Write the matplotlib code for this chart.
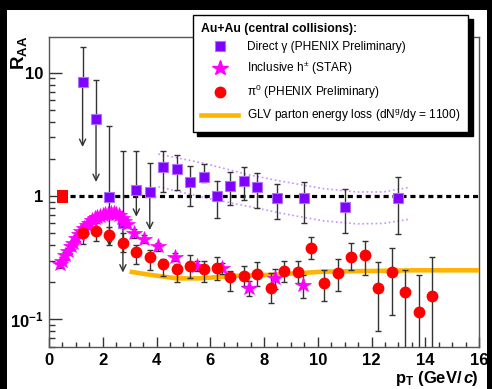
import matplotlib
matplotlib.use("Agg")
from matplotlib import pyplot as plt
from matplotlib.patches import Rectangle
from matplotlib.lines import Line2D
from matplotlib.ticker import FixedLocator, NullFormatter, LogLocator

plt.rcParams['font.family'] = ['Liberation Sans', 'DejaVu Sans']
plt.rcParams['mathtext.fontset'] = 'custom'
plt.rcParams['mathtext.rm'] = 'Liberation Sans'
plt.rcParams['mathtext.it'] = 'Liberation Sans:italic'
plt.rcParams['mathtext.bf'] = 'Liberation Sans:bold'
plt.rcParams['mathtext.default'] = 'regular'

# Direct gamma (PHENIX prelim.) - first six are upper limits
gam_pt = [1.25, 1.75, 2.25, 2.75, 3.25, 3.75, 4.25, 4.75, 5.25, 5.75, 6.25, 6.75, 7.25, 7.75, 8.5, 9.5, 11.0, 13.0]
gam_val = [8.35, 4.2, 0.99, 0.60, 1.12, 1.08, 1.71, 1.65, 1.29, 1.42, 1.0, 1.2, 1.33, 1.19, 0.96, 0.96, 0.82, 0.97]
gam_hi = [16.2, 8.66, 3.69, 2.3, 2.3, 1.87, 2.33, 2.17, 1.75, 1.82, 1.33, 1.56, 1.73, 1.54, 1.25, 1.31, 1.14, 1.43]
gam_lo = [2.5, 1.3, 0.39, 0.24, 0.68, 0.53, 1.07, 1.12, 0.83, 1.3, 0.67, 0.85, 0.93, 0.8, 0.65, 0.6, 0.5, 0.49]
gam_lim = [True, True, True, True, True, True] + [False] * 12

# dotted band around the direct gamma points
band_pt = [4.07, 5.74, 7.48, 8.72, 10.2, 11.45, 12.44, 13.43]
band_hi = [2.19, 1.85, 1.48, 1.31, 1.15, 1.08, 1.08, 1.18]
band_lo = [1.19, 0.975, 0.82, 0.72, 0.63, 0.595, 0.6, 0.65]

# inclusive h+- (STAR)
h_pt = [0.4, 0.5, 0.6, 0.7, 0.8, 0.9, 1.0, 1.1, 1.2, 1.3, 1.4, 1.5, 1.6, 1.7, 1.8, 1.9, 2.0, 2.1, 2.2,
        2.3, 2.4, 2.5, 2.6, 2.7, 2.8, 2.9, 3.15, 3.55, 4.05, 4.7, 5.5, 6.45, 7.45, 8.4, 9.45]
h_val = [0.28, 0.30, 0.33, 0.36, 0.39, 0.42, 0.46, 0.49, 0.52, 0.55, 0.58, 0.61, 0.64, 0.66, 0.68, 0.69, 0.70, 0.71, 0.72,
         0.73, 0.73, 0.72, 0.70, 0.67, 0.63, 0.59, 0.50, 0.45, 0.39, 0.32, 0.27, 0.26, 0.18, 0.215, 0.19]
h_err = [0.02] * 26 + [0.04, 0.035, 0.03, 0.025, 0.025, 0.025, 0.025, 0.04, 0.04]

# pi0 (PHENIX prelim.)
pi_pt = [1.25, 1.75, 2.25, 2.75, 3.25, 3.75, 4.25, 4.75, 5.25, 5.75, 6.25, 6.75, 7.25, 7.75, 8.25, 8.75,
         9.25, 9.75, 10.25, 10.75, 11.25, 11.75, 12.25, 12.75, 13.25, 13.75, 14.25]
pi_val = [0.50, 0.52, 0.48, 0.42, 0.35, 0.32, 0.28, 0.255, 0.27, 0.255, 0.263, 0.22, 0.225, 0.233, 0.18, 0.247,
          0.244, 0.38, 0.196, 0.239, 0.32, 0.33, 0.18, 0.243, 0.168, 0.114, 0.155]
pi_hi = [0.58, 0.60, 0.56, 0.50, 0.40, 0.365, 0.31, 0.28, 0.33, 0.30, 0.32, 0.245, 0.27, 0.29, 0.236, 0.30,
         0.295, 0.47, 0.25, 0.31, 0.42, 0.43, 0.29, 0.38, 0.25, 0.23, 0.32]
pi_lo = [0.41, 0.43, 0.40, 0.355, 0.28, 0.25, 0.225, 0.20, 0.215, 0.20, 0.21, 0.17, 0.185, 0.185, 0.137, 0.2,
         0.196, 0.31, 0.14, 0.17, 0.25, 0.23, 0.08, 0.108, 0.01, 0.01, 0.01]

# GLV parton energy loss curve
glv_pt = [3.0, 3.75, 4.75, 5.6, 6.85, 8.35, 10.2, 12.05, 13.55, 16.0]
glv_val = [0.244, 0.230, 0.215, 0.215, 0.225, 0.230, 0.244, 0.247, 0.25, 0.25]

norm_pt = 0.5
norm_err = [0.885, 1.13]

labels = ["Direct \u03b3 (PHENIX Preliminary)", "Inclusive h$^{\\pm}$ (STAR)",
          "\u03c0$^{0}$ (PHENIX Preliminary)", "GLV parton energy loss (dN$^{g}$/dy = 1100)"]

W, H = 492, 389
fig = plt.figure(figsize=(W / 100, H / 100), dpi=100, facecolor='black')
fig.patches.append(Rectangle((7 / W, 0), 480 / W, 379 / H, transform=fig.transFigure,
                             facecolor='white', edgecolor='none', zorder=-5))
ax = fig.add_axes([49 / W, 42 / H, 430 / W, 310 / H])
ax.set_facecolor('white')
ax.set_yscale('log')
ax.set_xlim(0, 16)
ax.set_ylim(0.0597, 19.5)

purple = '#8000ff'
red = '#ff0000'
mag = '#ff00ff'
orange = '#ffb400'
ecol = '#333333'

# normalisation box and unity line
ax.add_patch(Rectangle((norm_pt - 0.21, norm_err[0]), 0.42, norm_err[1] - norm_err[0],
                       facecolor=red, edgecolor='none', zorder=4))
ax.plot([0.78, 16], [1, 1], color='black', lw=2.3, ls=(0, (1.6, 1.2)), zorder=2)

ax.plot(band_pt, band_hi, color='#c890ff', lw=1.2, ls=':', zorder=1)
ax.plot(band_pt, band_lo, color='#c890ff', lw=1.2, ls=':', zorder=1)

ax.plot(glv_pt, glv_val, color=orange, lw=3.3, zorder=3, solid_capstyle='butt')

# direct photons
for x, v, hi, lo, lim in zip(gam_pt, gam_val, gam_hi, gam_lo, gam_lim):
    if lim:
        ax.errorbar([x], [v], yerr=[[0], [hi - v]], fmt='none', ecolor=ecol, elinewidth=1,
                    capsize=2.5, zorder=5)
        ax.annotate('', xy=(x, lo), xytext=(x, v), zorder=5,
                    arrowprops=dict(arrowstyle='->,head_length=0.45,head_width=0.22',
                                    color=ecol, lw=1, shrinkA=0, shrinkB=0))
    else:
        ax.errorbar([x], [v], yerr=[[v - lo], [hi - v]], fmt='none', ecolor=ecol, elinewidth=1,
                    capsize=2.5, zorder=5)
ax.plot(gam_pt, gam_val, ls='none', marker='s', ms=7.2, mfc=purple, mec='#b070ff', mew=0.8, zorder=6)

# charged hadrons
ax.errorbar(h_pt, h_val, yerr=h_err, fmt='none', ecolor=ecol, elinewidth=1, capsize=2, zorder=5)
ax.plot(h_pt, h_val, ls='none', marker='*', ms=11.5, mfc=mag, mec=mag, mew=0.5, zorder=6)

# pi0
ax.errorbar(pi_pt, pi_val, yerr=[[v - l for v, l in zip(pi_val, pi_lo)], [h - v for v, h in zip(pi_val, pi_hi)]],
            fmt='none', ecolor=ecol, elinewidth=1, capsize=2.5, zorder=5)
ax.plot(pi_pt, pi_val, ls='none', marker='o', ms=7.5, mfc=red, mec=red, zorder=7)

# axes styling
for s in ax.spines.values():
    s.set_color('#555555')
    s.set_linewidth(1)
ax.yaxis.set_major_locator(FixedLocator([0.1, 1, 10]))
ax.set_yticklabels(['10$^{-1}$', '1', '10'])
ax.yaxis.set_minor_locator(LogLocator(base=10, subs=[2, 3, 4, 5, 6, 7, 8, 9]))
ax.yaxis.set_minor_formatter(NullFormatter())
ax.set_xticks([0, 2, 4, 6, 8, 10, 12, 14, 16])
ax.set_xticks([i * 0.5 for i in range(33)], minor=True)
ax.tick_params(axis='both', which='both', direction='in', color='#333333', top=False, right=False)
ax.tick_params(axis='y', which='major', length=9, width=1, pad=4, labelsize=12)
ax.tick_params(axis='y', which='minor', length=4.3, width=1)
ax.tick_params(axis='x', which='major', length=7, width=1, pad=4, labelsize=12)
ax.tick_params(axis='x', which='minor', length=3.6, width=1)
for t in ax.get_xticklabels() + ax.get_yticklabels():
    t.set_fontweight('bold')

fig.text(9 / W, 1 - 36 / H, 'R$_{AA}$', rotation=90, ha='left', va='top',
         fontsize=13.5, fontweight='bold')

# x label, built right to left so it ends at the axis edge
base_y = 1 - 383 / H
par = fig.text(478 / W, base_y, ')', ha='right', va='baseline', fontsize=12, fontweight='bold')
fig.canvas.draw()
x0 = par.get_window_extent().x0
c = fig.text(x0 / W, base_y, 'c', ha='right', va='baseline', fontsize=12,
             fontweight='bold', fontstyle='italic')
fig.canvas.draw()
x0 = c.get_window_extent().x0
fig.text(x0 / W, base_y, 'p$_{T}$ (GeV/', ha='right', va='baseline', fontsize=12, fontweight='bold')

handles = [Line2D([], [], ls='none', marker='s', ms=7.2, mfc=purple, mec='#b070ff', mew=0.8),
           Line2D([], [], ls='none', marker='*', ms=11.5, mfc=mag, mec=mag),
           Line2D([], [], ls='none', marker='o', ms=7.5, mfc=red, mec=red),
           Line2D([], [], color=orange, lw=3.3)]
leg = ax.legend(handles, labels, title='Au+Au (central collisions):', loc='upper left',
                bbox_to_anchor=(193 / W, 1 - 15 / H), bbox_transform=fig.transFigure,
                fontsize=8.6, title_fontproperties={'weight': 'bold', 'size': 8.8},
                alignment='left', frameon=True, fancybox=False, edgecolor='black',
                framealpha=1, borderpad=0.7, labelspacing=0.5, handlelength=3.1,
                handletextpad=0.7, borderaxespad=0,
                shadow={'ox': 3, 'oy': -3, 'color': 'black', 'alpha': 1})
leg.get_frame().set_linewidth(1)
leg.set_zorder(20)

fig.savefig('out.png', dpi=100, facecolor=fig.get_facecolor())
